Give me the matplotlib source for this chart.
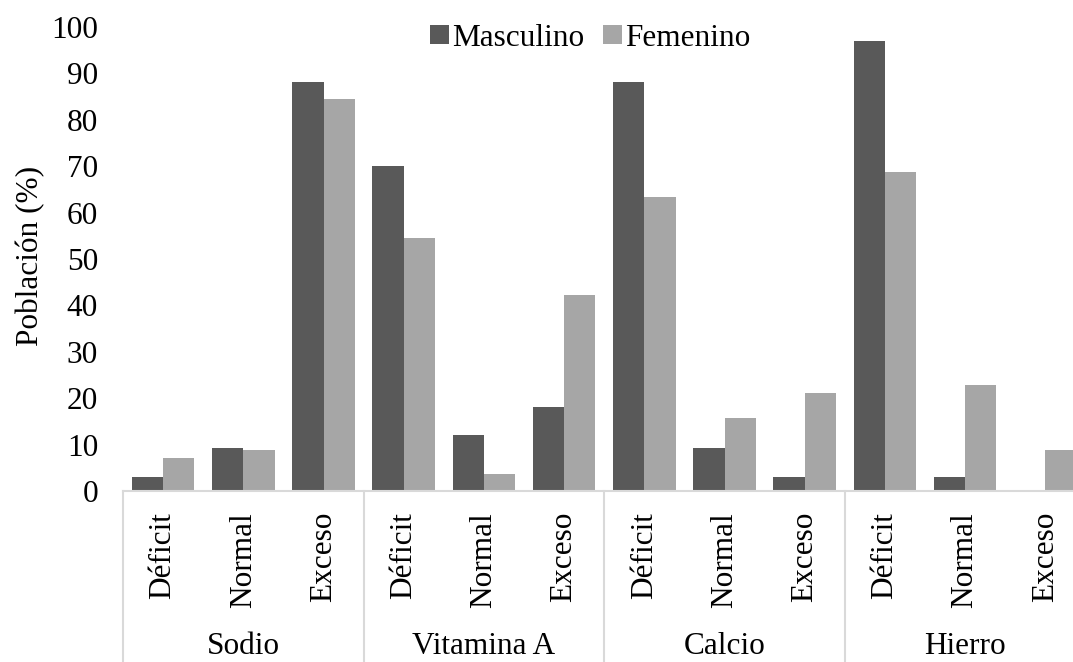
import matplotlib.pyplot as plt
import matplotlib.transforms as mtransforms
import numpy as np

plt.rcParams['font.family'] = ['Liberation Serif', 'DejaVu Serif']

# Data
nutrients = ['Sodio', 'Vitamina A', 'Calcio', 'Hierro']
states = ['Déficit', 'Normal', 'Exceso']
masculino = [3.0, 9.2, 88.1, 70.0, 12.1, 18.1, 88.1, 9.3, 3.0, 97.0, 3.0, 0.0]
femenino = [7.1, 8.9, 84.4, 54.6, 3.7, 42.3, 63.3, 15.8, 21.2, 68.7, 22.9, 8.9]
y_ticks = list(range(0, 101, 10))

W, H = 1073, 662
fs = 22.5
fig = plt.figure(figsize=(W / 100, H / 100), dpi=100)

# axes placed in pixel terms of the reference
left_px, right_px, top_px, bottom_px = 123, 1073, 27, 491
ax = fig.add_axes([left_px / W, 1 - bottom_px / H, (right_px - left_px) / W, (bottom_px - top_px) / H])

n = len(masculino)
x = np.arange(n)
bw = 0.39
cat_px = 80.2  # width of one category in pixels
ax.bar(x - bw / 2, masculino, bw, color='#595959', label='Masculino')
ax.bar(x + bw / 2, femenino, bw, color='#a6a6a6', label='Femenino')

ax.set_xlim(-0.5, -0.5 + (right_px - left_px) / cat_px)
ax.set_ylim(0, 100)
ax.set_yticks(y_ticks)
ax.tick_params(axis='y', length=0, pad=18, labelsize=fs)
ax.set_xticks([])
for s in ['top', 'right', 'left']:
    ax.spines[s].set_visible(False)
ax.spines['bottom'].set_color('#d9d9d9')
ax.spines['bottom'].set_linewidth(1.5)

trans = mtransforms.blended_transform_factory(ax.transData, ax.transAxes)
axh = bottom_px - top_px

# group separators
fig_bottom = -(H - bottom_px) / axh
for g in range(len(nutrients) + 1):
    xs = g * len(states) - 0.5
    ax.plot([xs, xs], [0, fig_bottom], color='#d9d9d9', lw=1.5, transform=trans, clip_on=False)

# sub-category labels
for i in range(n):
    ax.text(i, -(512 - bottom_px) / axh, states[i % len(states)], rotation=90, ha='center', va='top',
            fontsize=fs, transform=trans)

# group labels
for g, name in enumerate(nutrients):
    ax.text(g * len(states) + 1, -(647 - bottom_px) / axh, name, ha='center', va='center',
            fontsize=fs, transform=trans)

fig.text(31 / W, 1 - 256 / H, 'Población (%)', rotation=90, ha='center', va='center', fontsize=fs)

ax.legend(loc='center', bbox_to_anchor=((590 - left_px) / (right_px - left_px), 1 - (38 - top_px) / axh),
          ncol=2, frameon=False, fontsize=fs, handlelength=0.6, handleheight=0.6,
          handletextpad=0.1, columnspacing=0.6)

fig.savefig('out.png', dpi=100)
